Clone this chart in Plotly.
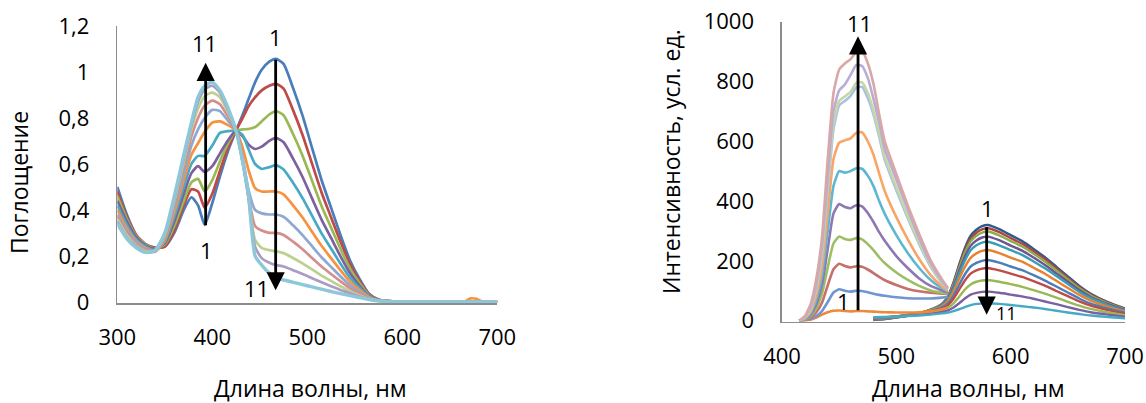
import plotly.graph_objects as go

# ---------------- Left chart: absorption spectra ----------------
abs_wl = [300, 310, 320, 330, 340, 350, 360, 370, 378, 385, 392, 400, 408, 416, 425,
          432, 438, 445, 452, 460, 467, 475, 485, 495, 505, 515, 525, 535, 545, 555,
          565, 575, 585, 600, 650, 665, 672, 678, 685, 700]

abs_1 = [0.50, 0.38, 0.29, 0.25, 0.235, 0.24, 0.30, 0.40, 0.455, 0.42, 0.335, 0.43, 0.545, 0.65, 0.745,
         0.815, 0.88, 0.955, 1.01, 1.045, 1.057, 1.035, 0.93, 0.81, 0.67, 0.53, 0.41, 0.29, 0.18, 0.10,
         0.035, 0.01, 0.003, 0.001, 0, 0, -0.004, -0.003, 0, 0]
abs_2 = [0.48, 0.37, 0.29, 0.25, 0.235, 0.24, 0.31, 0.42, 0.49, 0.48, 0.41, 0.47, 0.57, 0.665, 0.745,
         0.80, 0.85, 0.89, 0.92, 0.94, 0.948, 0.928, 0.834, 0.726, 0.601, 0.476, 0.368, 0.261, 0.163, 0.091,
         0.032, 0.009, 0.003, 0.001, 0, 0, 0, 0, 0, 0]
abs_3 = [0.46, 0.36, 0.285, 0.25, 0.23, 0.25, 0.33, 0.44, 0.52, 0.535, 0.48, 0.53, 0.61, 0.685, 0.745,
         0.75, 0.752, 0.76, 0.785, 0.815, 0.83, 0.812, 0.73, 0.636, 0.527, 0.417, 0.323, 0.23, 0.144, 0.081,
         0.029, 0.009, 0.003, 0.001, 0, 0, 0, 0, 0, 0]
abs_4 = [0.44, 0.35, 0.28, 0.245, 0.23, 0.255, 0.35, 0.47, 0.56, 0.59, 0.565, 0.59, 0.645, 0.70, 0.745,
         0.72, 0.685, 0.665, 0.675, 0.70, 0.713, 0.694, 0.623, 0.543, 0.45, 0.358, 0.278, 0.198, 0.124, 0.07,
         0.026, 0.008, 0.003, 0.001, 0, 0, 0, 0, 0, 0]
abs_5 = [0.42, 0.335, 0.27, 0.24, 0.225, 0.26, 0.37, 0.50, 0.60, 0.635, 0.635, 0.68, 0.735, 0.742, 0.745,
         0.725, 0.665, 0.60, 0.578, 0.586, 0.595, 0.576, 0.518, 0.451, 0.375, 0.298, 0.232, 0.166, 0.105, 0.06,
         0.023, 0.007, 0.002, 0.001, 0, 0, 0, 0, 0, 0]
abs_6 = [0.40, 0.32, 0.265, 0.235, 0.22, 0.27, 0.39, 0.53, 0.64, 0.69, 0.74, 0.78, 0.785, 0.77, 0.745,
         0.67, 0.575, 0.495, 0.48, 0.48, 0.48, 0.468, 0.42, 0.367, 0.305, 0.244, 0.19, 0.137, 0.088, 0.051,
         0.02, 0.006, 0.002, 0.0, 0, 0, 0.015, 0.013, 0, 0]
abs_7 = [0.38, 0.31, 0.26, 0.23, 0.22, 0.28, 0.41, 0.56, 0.68, 0.75, 0.80, 0.835, 0.83, 0.79, 0.745,
         0.625, 0.49, 0.40, 0.385, 0.38, 0.38, 0.37, 0.333, 0.29, 0.242, 0.194, 0.152, 0.11, 0.072, 0.042,
         0.017, 0.006, 0.002, 0.0, 0, 0, 0, 0, 0, 0]
abs_8 = [0.37, 0.30, 0.25, 0.225, 0.22, 0.285, 0.43, 0.59, 0.72, 0.80, 0.855, 0.875, 0.86, 0.81, 0.745,
         0.615, 0.465, 0.33, 0.31, 0.30, 0.30, 0.291, 0.262, 0.229, 0.191, 0.154, 0.121, 0.089, 0.059, 0.035,
         0.015, 0.005, 0.002, 0.0, 0, 0, 0, 0, 0, 0]
abs_9 = [0.36, 0.29, 0.245, 0.22, 0.22, 0.29, 0.44, 0.61, 0.75, 0.84, 0.895, 0.91, 0.89, 0.83, 0.745,
         0.605, 0.455, 0.27, 0.235, 0.225, 0.22, 0.212, 0.191, 0.167, 0.141, 0.114, 0.091, 0.068, 0.046, 0.028,
         0.013, 0.005, 0.002, 0.0, 0, 0, 0, 0, 0, 0]
abs_10 = [0.35, 0.28, 0.24, 0.215, 0.22, 0.295, 0.45, 0.625, 0.765, 0.87, 0.925, 0.94, 0.91, 0.84, 0.745,
          0.605, 0.455, 0.24, 0.19, 0.17, 0.16, 0.154, 0.138, 0.121, 0.103, 0.085, 0.068, 0.052, 0.037, 0.023,
          0.011, 0.004, 0.002, 0.0, 0, 0, 0, 0, 0, 0]
abs_11 = [0.34, 0.275, 0.235, 0.215, 0.225, 0.30, 0.46, 0.64, 0.78, 0.89, 0.94, 0.955, 0.92, 0.85, 0.745,
          0.61, 0.47, 0.20, 0.16, 0.125, 0.105, 0.095, 0.085, 0.075, 0.065, 0.055, 0.045, 0.036, 0.027, 0.018,
          0.01, 0.004, 0.002, 0.0, 0, 0, 0, 0, 0, 0]

abs_series = [abs_1, abs_2, abs_3, abs_4, abs_5, abs_6, abs_7, abs_8, abs_9, abs_10, abs_11]
abs_colors = ["#4A7EBB", "#BE4B48", "#98B954", "#7D60A0", "#46AAC5", "#F69240",
              "#8EA8D2", "#D48E8C", "#BCD18F", "#AB9CC3", "#8CC8DA"]

abs_xticks = [300, 400, 500, 600, 700]
abs_xlabels = ["300", "400", "500", "600", "700"]
abs_yticks = [0, 0.2, 0.4, 0.6, 0.8, 1.0, 1.2]
abs_ylabels = ["0", "0,2", "0,4", "0,6", "0,8", "1", "1,2"]

# ---------------- Right chart: emission spectra ----------------
emA_wl = [415, 420, 425, 430, 435, 440, 445, 450, 455, 460, 465, 470, 475, 480, 485, 490,
          500, 510, 520, 530, 540, 545]
emA_1 = [0, 0, 3, 10, 20, 28, 33, 34, 32, 31, 32, 32, 31, 30, 29, 28, 27, 27, 28, 31, 38, 44]
emA_2 = [0, 2, 6, 15, 32, 62, 94, 105, 100, 97, 100, 99, 95, 90, 86, 83, 78, 75, 74, 74, 77, 80]
emA_3 = [0, 3, 10, 28, 60, 118, 172, 190, 183, 178, 182, 180, 171, 159, 146, 135, 119, 106, 98, 93, 90, 90]
emA_4 = [0, 4, 15, 40, 90, 178, 258, 281, 273, 270, 276, 272, 256, 236, 212, 192, 161, 136, 116, 101, 93, 90]
emA_5 = [0, 5, 20, 55, 120, 240, 358, 390, 380, 376, 386, 382, 360, 330, 296, 266, 216, 176, 141, 116, 101, 95]
emA_6 = [0, 6, 25, 70, 150, 300, 450, 500, 495, 500, 510, 508, 485, 450, 400, 356, 286, 226, 176, 136, 108, 98]
emA_7 = [0, 8, 30, 85, 180, 360, 540, 595, 603, 610, 628, 630, 600, 555, 492, 432, 346, 272, 206, 152, 114, 100]
emA_8 = [0, 10, 38, 105, 220, 430, 640, 720, 735, 752, 780, 782, 745, 690, 615, 536, 436, 342, 256, 180, 125, 104]
emA_9 = [0, 10, 40, 110, 230, 450, 660, 735, 750, 765, 795, 797, 762, 702, 626, 546, 446, 350, 262, 184, 128, 106]
emA_10 = [0, 12, 45, 120, 250, 480, 700, 770, 790, 822, 855, 852, 812, 742, 662, 572, 472, 372, 276, 192, 132, 108]
emA_11 = [0, 15, 55, 140, 280, 540, 760, 840, 860, 875, 898, 902, 862, 792, 690, 598, 490, 385, 290, 202, 138, 110]
emA_series = [emA_1, emA_2, emA_3, emA_4, emA_5, emA_6, emA_7, emA_8, emA_9, emA_10, emA_11]
emA_colors = ["#F0883A", "#7096D1", "#C6706C", "#9DBE65", "#8E78B4", "#5DB7D0",
              "#F9A567", "#A9BFE2", "#C4D8A4", "#B7ADD6", "#D9A8A6"]

emB_wl = [480, 490, 500, 510, 520, 530, 540, 545, 550, 555, 560, 565, 570, 575, 580,
          590, 600, 610, 620, 630, 640, 650, 660, 670, 685, 700]
emB_1 = [2, 5, 10, 16, 24, 36, 56, 80, 128, 188, 243, 284, 304, 316, 320, 306, 286, 266, 240, 212, 180, 148, 116, 90, 62, 40]
emB_2 = [3, 6, 11, 17, 25, 37, 56, 79, 124, 182, 235, 274, 294, 305, 309, 296, 276, 257, 232, 205, 174, 143, 112, 87, 60, 38]
emB_3 = [4, 7, 12, 18, 25, 37, 55, 77, 120, 176, 227, 265, 284, 294, 298, 285, 266, 248, 224, 198, 168, 138, 108, 84, 58, 37]
emB_4 = [4, 8, 13, 18, 25, 36, 53, 73, 113, 166, 214, 250, 268, 278, 281, 269, 251, 234, 211, 186, 158, 130, 102, 79, 55, 35]
emB_5 = [5, 8, 13, 19, 25, 35, 51, 70, 106, 156, 201, 235, 252, 261, 264, 252, 236, 220, 198, 175, 149, 122, 96, 75, 52, 33]
emB_6 = [6, 9, 14, 19, 25, 34, 48, 64, 96, 140, 180, 210, 225, 233, 236, 226, 211, 197, 177, 157, 133, 109, 86, 67, 46, 30]
emB_7 = [7, 10, 14, 19, 24, 32, 44, 57, 83, 120, 155, 181, 193, 200, 203, 194, 181, 169, 152, 134, 114, 94, 74, 57, 40, 26]
emB_8 = [8, 10, 14, 18, 23, 30, 40, 51, 73, 104, 134, 157, 168, 174, 176, 168, 157, 146, 132, 117, 99, 82, 64, 50, 35, 23]
emB_9 = [9, 11, 14, 17, 21, 27, 35, 43, 58, 80, 104, 121, 130, 134, 136, 130, 122, 113, 102, 90, 77, 63, 50, 39, 27, 18]
emB_10 = [10, 11, 13, 16, 19, 23, 29, 34, 44, 58, 74, 87, 93, 96, 97, 93, 87, 81, 73, 64, 55, 45, 36, 28, 20, 13]
emB_11 = [11, 12, 13, 15, 17, 20, 24, 27, 32, 38, 45, 52, 56, 57, 58, 56, 52, 48, 44, 39, 33, 27, 22, 17, 12, 8]
emB_series = [emB_1, emB_2, emB_3, emB_4, emB_5, emB_6, emB_7, emB_8, emB_9, emB_10, emB_11]
emB_colors = ["#2E5A8E", "#B04542", "#8AAE4A", "#6E5494", "#3A9DB8", "#E8822F",
              "#4A7EBB", "#BE4B48", "#98B954", "#7D60A0", "#46AAC5"]

em_xticks = [400, 500, 600, 700]
em_xlabels = ["400", "500", "600", "700"]
em_yticks = [0, 200, 400, 600, 800, 1000]
em_ylabels = ["0", "200", "400", "600", "800", "1000"]

FONT = "Open Sans"
W, H = 1146, 403

fig = go.Figure()

for i, (ys, c) in enumerate(zip(abs_series, abs_colors)):
    fig.add_trace(go.Scatter(x=abs_wl, y=ys, mode="lines", xaxis="x", yaxis="y",
                             line=dict(color=c, width=3.4 if i == 10 else 2.7,
                                       shape="spline", smoothing=0.6),
                             showlegend=False, hoverinfo="skip"))

for ys, c in zip(emB_series, emB_colors):
    fig.add_trace(go.Scatter(x=emB_wl, y=ys, mode="lines", xaxis="x2", yaxis="y2",
                             line=dict(color=c, width=2.4, shape="spline", smoothing=0.5),
                             showlegend=False, hoverinfo="skip"))

for ys, c in zip(emA_series, emA_colors):
    fig.add_trace(go.Scatter(x=emA_wl, y=ys, mode="lines", xaxis="x2", yaxis="y2",
                             line=dict(color=c, width=2.6, shape="spline", smoothing=0.5),
                             showlegend=False, hoverinfo="skip"))

axis_common = dict(showline=True, linecolor="#8C8C8C", linewidth=1.6, showgrid=False,
                   zeroline=False, ticks="", automargin=False,
                   tickfont=dict(family=FONT, size=22, color="black"),
                   fixedrange=True)


def px_x(p):
    return p / W


def px_y(p):
    return 1 - p / H


fig.update_layout(
    width=W, height=H,
    margin=dict(l=0, r=0, t=0, b=0, autoexpand=False),
    paper_bgcolor="white", plot_bgcolor="white",
    font=dict(family=FONT, color="black"),
    xaxis=dict(domain=[px_x(117.3), px_x(497.3)], range=[300, 700], anchor="y",
               tickmode="array", tickvals=abs_xticks, ticktext=abs_xlabels,
               ticklabelstandoff=14, **axis_common),
    yaxis=dict(domain=[px_y(303), px_y(26)], range=[-0.005, 1.2], anchor="x",
               tickmode="array", tickvals=abs_yticks, ticktext=abs_ylabels,
               ticklabelstandoff=22, **axis_common),
    xaxis2=dict(domain=[px_x(782), px_x(1125)], range=[400, 700], anchor="y2",
                tickmode="array", tickvals=em_xticks, ticktext=em_xlabels,
                ticklabelstandoff=14, **axis_common),
    yaxis2=dict(domain=[px_y(321.5), px_y(21.7)], range=[-3, 1000], anchor="x2",
                tickmode="array", tickvals=em_yticks, ticktext=em_ylabels,
                ticklabelstandoff=22, **axis_common),
)

annotations = []
title_font = dict(family=FONT, size=23, color="black")
annotations.append(dict(text="Длина волны, нм", xref="paper", yref="paper",
                        x=px_x(310), y=px_y(388), showarrow=False, font=title_font,
                        xanchor="center", yanchor="middle"))
annotations.append(dict(text="Длина волны, нм", xref="paper", yref="paper",
                        x=px_x(968), y=px_y(388), showarrow=False, font=title_font,
                        xanchor="center", yanchor="middle"))
annotations.append(dict(text="Поглощение", xref="paper", yref="paper",
                        x=px_x(19), y=px_y(183), showarrow=False, font=title_font,
                        textangle=-90, xanchor="center", yanchor="middle"))
annotations.append(dict(text="Интенсивность, усл. ед.", xref="paper", yref="paper",
                        x=px_x(671), y=px_y(162), showarrow=False, font=title_font,
                        textangle=-90, xanchor="center", yanchor="middle"))

arrow_style = dict(showarrow=True, arrowhead=2, arrowsize=1.3, arrowwidth=2.8,
                   arrowcolor="black", text="")
# left chart arrows
annotations.append(dict(x=393, y=1.04, ax=393, ay=0.327, xref="x", yref="y",
                        axref="x", ayref="y", **arrow_style))
annotations.append(dict(x=466.7, y=0.05, ax=466.7, ay=1.06, xref="x", yref="y",
                        axref="x", ayref="y", **arrow_style))
# right chart arrows
annotations.append(dict(x=466.5, y=951, ax=466.5, ay=30, xref="x2", yref="y2",
                        axref="x2", ayref="y2", **arrow_style))
annotations.append(dict(x=579, y=20, ax=579, ay=318, xref="x2", yref="y2",
                        axref="x2", ayref="y2", **arrow_style))

lab_font = dict(family=FONT, size=22, color="black")
small_font = dict(family=FONT, size=18, color="black")
labels = [
    ("11", 392.3, 1.125, "x", "y", lab_font),
    ("1", 394, 0.226, "x", "y", lab_font),
    ("1", 466, 1.153, "x", "y", lab_font),
    ("11", 446.7, 0.059, "x", "y", lab_font),
    ("11", 467.4, 994, "x2", "y2", lab_font),
    ("1", 453.6, 64, "x2", "y2", lab_font),
    ("1", 579.6, 376, "x2", "y2", lab_font),
    ("11", 596.5, 25, "x2", "y2", small_font),
]
for t, x, y, xr, yr, f in labels:
    annotations.append(dict(text=t, x=x, y=y, xref=xr, yref=yr, showarrow=False,
                            font=f, xanchor="center", yanchor="middle"))

fig.update_layout(annotations=annotations)

fig.write_html("out.html",
               config={"displayModeBar": False, "staticPlot": True},
               post_script="document.body.style.margin='0';document.body.style.padding='0';"
                           "document.documentElement.style.overflow='hidden';")
